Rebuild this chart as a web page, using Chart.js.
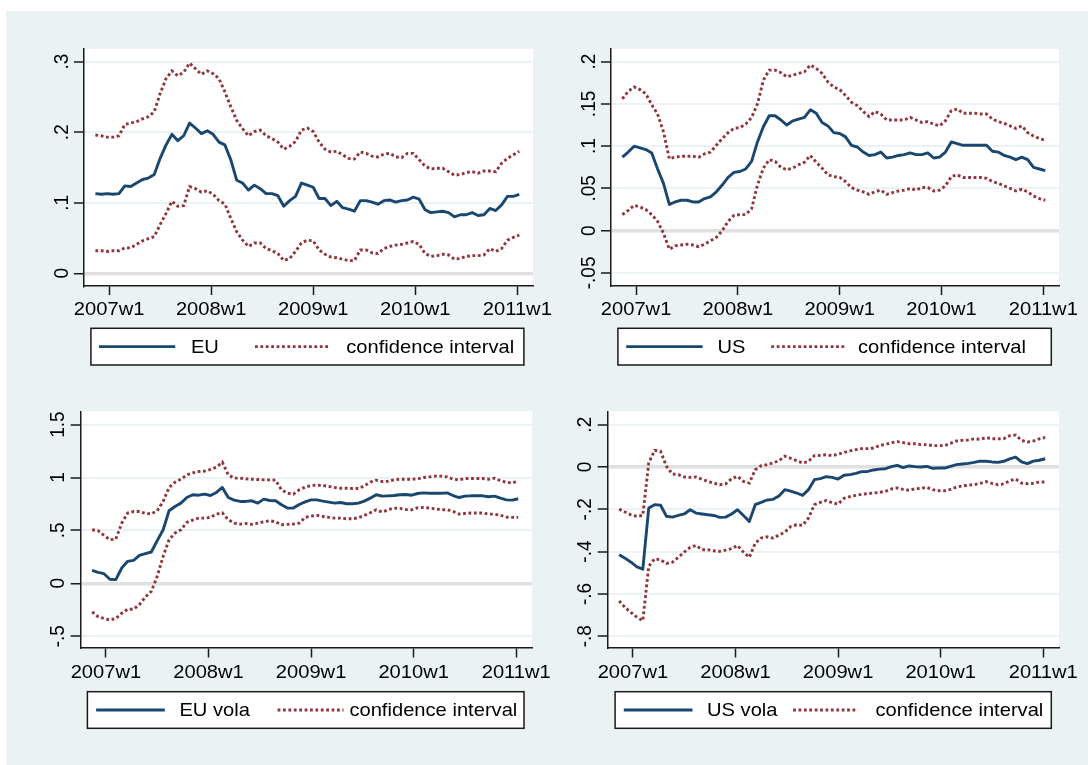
<!DOCTYPE html>
<html>
<head>
<meta charset="utf-8">
<script src="https://cdn.jsdelivr.net/npm/chart.js@4.4.1/dist/chart.umd.min.js"></script>
<style>
  html, body { margin: 0; padding: 0; background: #ffffff; }
  #page { position: relative; width: 1088px; height: 765px; overflow: hidden; background: #ffffff; }
  #region { position: absolute; left: 6px; top: 11px; right: 0; bottom: 0; background: #eaf2f3; }
  #page canvas { position: absolute; left: 0; top: 0; }
</style>
</head>
<body>
<div id="page">
  <div id="region"></div>
  <canvas id="c1" width="1088" height="765"></canvas>
  <canvas id="c2" width="1088" height="765"></canvas>
  <canvas id="c3" width="1088" height="765"></canvas>
  <canvas id="c4" width="1088" height="765"></canvas>
</div>
<script>
// Weekly observations, counted in weeks from 2007w1
const weeks = [-7,-4,-1,2,5,8,11,14,17,20,
  23,26,29,32,35,38,41,44,47,50,
  53,56,59,62,65,68,71,74,77,80,
  83,86,89,92,95,98,101,104,107,110,
  113,116,119,122,125,128,131,134,137,140,
  143,146,149,152,155,158,161,164,167,170,
  173,176,179,182,185,188,191,194,197,200,
  203,206,209];

const xTickWeeks = [0, 52, 104, 156, 208];
const xTickLabels = ['2007w1', '2008w1', '2009w1', '2010w1', '2011w1'];

const seriesNames = ['EU', 'US', 'EU vola', 'US vola'];
const intervalName = 'confidence interval';

// EU
const euEstimate = [.113,.112,.113,.112,.113,.124,.123,.128,.133,.135,
  .140,.163,.182,.197,.188,.195,.213,.206,.198,.202,
  .197,.186,.182,.161,.132,.128,.118,.125,.120,.113,
  .113,.110,.095,.103,.109,.128,.125,.122,.106,.106,
  .096,.102,.093,.091,.088,.103,.103,.101,.098,.103,
  .104,.101,.103,.104,.108,.105,.090,.086,.087,.088,
  .086,.080,.083,.083,.086,.082,.083,.092,.089,.097,
  .109,.109,.112];
const euUpper = [.196,.195,.193,.193,.195,.211,.213,.215,.219,.222,
  .229,.255,.276,.287,.280,.285,.298,.290,.282,.287,
  .283,.276,.257,.236,.217,.205,.195,.201,.203,.195,
  .191,.186,.176,.180,.187,.203,.206,.201,.186,.176,
  .172,.173,.168,.163,.162,.172,.170,.166,.165,.169,
  .170,.165,.164,.170,.170,.161,.152,.148,.149,.149,
  .144,.139,.140,.143,.144,.142,.145,.145,.144,.156,
  .163,.168,.173];
const euLower = [.032,.032,.031,.032,.032,.036,.036,.041,.046,.049,
  .052,.069,.085,.102,.095,.096,.123,.120,.115,.117,
  .112,.103,.098,.078,.059,.047,.038,.043,.043,.035,
  .032,.028,.018,.021,.031,.043,.047,.046,.033,.027,
  .023,.022,.020,.018,.018,.033,.033,.029,.028,.035,
  .038,.040,.041,.043,.045,.041,.028,.024,.025,.027,
  .026,.020,.021,.024,.025,.025,.026,.035,.031,.035,
  .047,.051,.054];

// US
const usEstimate = [.087,.093,.100,.098,.096,.092,.073,.056,.031,.034,
  .036,.036,.034,.034,.038,.040,.046,.054,.063,.069,
  .070,.073,.082,.105,.123,.136,.136,.131,.125,.130,
  .132,.134,.143,.139,.128,.124,.116,.115,.111,.101,
  .099,.093,.089,.090,.093,.086,.087,.089,.090,.092,
  .090,.090,.092,.086,.087,.093,.105,.103,.101,.101,
  .101,.101,.101,.094,.093,.089,.087,.084,.087,.084,
  .075,.073,.071];
const usUpper = [.156,.165,.170,.167,.162,.149,.138,.117,.085,.087,
  .088,.088,.088,.087,.091,.093,.101,.109,.116,.121,
  .122,.126,.134,.150,.178,.190,.190,.187,.182,.184,
  .186,.188,.196,.192,.186,.176,.170,.167,.160,.152,
  .148,.141,.135,.141,.138,.131,.131,.131,.131,.134,
  .131,.128,.129,.126,.124,.130,.142,.144,.139,.139,
  .139,.138,.138,.132,.129,.127,.124,.121,.124,.116,
  .112,.109,.107];
const usLower = [.019,.024,.030,.028,.025,.019,.011,-.003,-.022,-.018,
  -.017,-.016,-.017,-.019,-.016,-.012,-.008,.000,.011,.018,
  .019,.019,.026,.054,.074,.084,.082,.075,.072,.074,
  .078,.081,.089,.081,.074,.066,.064,.063,.058,.051,
  .048,.046,.043,.046,.048,.043,.045,.047,.048,.050,
  .048,.051,.051,.047,.048,.053,.064,.066,.063,.063,
  .063,.063,.062,.058,.056,.053,.050,.047,.049,.046,
  .041,.038,.036];

// EU vola
const euVolaEstimate = [.123,.104,.091,.038,.035,.145,.208,.217,.264,.280,
  .296,.403,.506,.686,.726,.758,.811,.837,.833,.843,
  .830,.859,.906,.811,.786,.774,.774,.780,.758,.796,
  .783,.780,.742,.711,.711,.745,.770,.789,.789,.777,
  .767,.758,.764,.752,.752,.758,.777,.805,.837,.824,
  .827,.830,.837,.840,.833,.849,.855,.852,.852,.852,
  .855,.830,.811,.824,.827,.827,.827,.818,.824,.805,
  .789,.786,.799];
const euVolaUpper = [.506,.497,.453,.412,.418,.569,.664,.679,.679,.660,
  .657,.686,.774,.906,.956,.984,1.025,1.044,1.057,1.060,
  1.076,1.098,1.145,1.025,.994,.994,.987,.984,.981,.978,
  .978,.975,.884,.852,.843,.884,.909,.925,.928,.925,
  .915,.906,.899,.899,.896,.896,.921,.956,.975,.962,
  .965,.978,.984,.984,.984,.987,1.000,1.006,1.013,1.013,
  1.006,.984,.978,.991,.991,.991,.991,.984,.994,.969,
  .956,.947,.969];
const euVolaLower = [-.270,-.315,-.333,-.346,-.333,-.283,-.245,-.245,-.201,-.129,
  -.076,.066,.255,.412,.475,.506,.576,.598,.616,.616,
  .623,.654,.667,.601,.569,.560,.566,.557,.569,.582,
  .591,.582,.554,.557,.560,.569,.623,.635,.642,.632,
  .623,.616,.616,.610,.610,.620,.642,.667,.695,.673,
  .695,.711,.708,.698,.695,.714,.717,.711,.704,.695,
  .695,.679,.654,.660,.664,.664,.664,.654,.654,.642,
  .626,.623,.623];

// US vola
const usVolaEstimate = [-.415,-.431,-.450,-.472,-.483,-.194,-.178,-.181,-.233,-.237,
  -.229,-.222,-.202,-.218,-.222,-.226,-.229,-.238,-.237,-.222,
  -.202,-.229,-.257,-.178,-.167,-.156,-.153,-.137,-.107,-.114,
  -.123,-.134,-.107,-.060,-.055,-.046,-.049,-.057,-.039,-.036,
  -.030,-.022,-.021,-.014,-.010,-.008,.002,.008,-.003,.005,
  .002,.000,.003,-.006,-.005,-.005,.003,.011,.014,.017,
  .022,.028,.027,.024,.022,.027,.038,.047,.024,.016,
  .028,.032,.039];
const usVolaUpper = [-.199,-.213,-.226,-.233,-.229,.019,.079,.074,.003,-.033,
  -.036,-.047,-.049,-.047,-.058,-.068,-.076,-.084,-.080,-.055,
  -.044,-.068,-.076,-.013,.006,.011,.019,.030,.051,.041,
  .030,.019,.027,.054,.055,.058,.054,.060,.069,.076,
  .082,.087,.087,.090,.101,.107,.115,.120,.115,.110,
  .110,.106,.106,.101,.101,.101,.112,.123,.126,.128,
  .133,.131,.139,.134,.133,.134,.148,.151,.126,.118,
  .123,.133,.140];
const usVolaLower = [-.633,-.664,-.688,-.710,-.727,-.470,-.434,-.439,-.456,-.450,
  -.427,-.402,-.380,-.371,-.391,-.391,-.396,-.399,-.393,-.386,
  -.371,-.402,-.427,-.360,-.336,-.330,-.336,-.322,-.308,-.281,
  -.273,-.276,-.241,-.178,-.167,-.158,-.169,-.175,-.148,-.140,
  -.134,-.129,-.126,-.123,-.120,-.115,-.104,-.099,-.106,-.110,
  -.103,-.101,-.096,-.107,-.112,-.112,-.106,-.095,-.090,-.085,
  -.084,-.077,-.069,-.077,-.084,-.080,-.065,-.057,-.076,-.079,
  -.077,-.071,-.071];

// y-axis ticks and their labels
const euTicks = [0, .1, .2, .3];
const euTickLabels = ['0', '.1', '.2', '.3'];
const usTicks = [-.05, 0, .05, .1, .15, .2];
const usTickLabels = ['-.05', '0', '.05', '.1', '.15', '.2'];
const euVolaTicks = [-.5, 0, .5, 1, 1.5];
const euVolaTickLabels = ['-.5', '0', '.5', '1', '1.5'];
const usVolaTicks = [-.8, -.6, -.4, -.2, 0, .2];
const usVolaTickLabels = ['-.8', '-.6', '-.4', '-.2', '0', '.2'];

// ---- styling ----
const NAVY = '#1a476f';
const MAROON = '#90353b';
const AXIS = '#1a1a1a';
const FONT = "19px 'Liberation Sans', Arial, Helvetica, sans-serif";
const STRETCH = 1.06;
const DASH = [2.8, 2.6];
const LINE_W = 2.9;
const Y_AXIS_W = 30, X_AXIS_H = 40;
const PAGE_W = 1088, PAGE_H = 765;

function drawLabel(ctx, text, x, y, align, vertical) {
  ctx.save();
  ctx.translate(x, y);
  ctx.scale(STRETCH, 1);
  if (vertical) ctx.rotate(-Math.PI / 2);
  ctx.font = FONT;
  ctx.fillStyle = '#000';
  ctx.textAlign = align;
  ctx.textBaseline = vertical ? 'alphabetic' : 'middle';
  ctx.fillText(text, 0, 0);
  ctx.restore();
}

const panelDecor = {
  id: 'panelDecor',
  beforeDraw(chart) {
    const { ctx, chartArea: a } = chart;
    ctx.save();
    ctx.fillStyle = '#ffffff';
    ctx.fillRect(a.left, a.top, a.right - a.left, a.bottom - a.top);
    ctx.restore();
  },
  afterDraw(chart, args, opts) {
    const ctx = chart.ctx;
    const xs = chart.scales.x, ys = chart.scales.y;
    xs.ticks.forEach((t, i) => {
      drawLabel(ctx, xTickLabels[i], xs.getPixelForValue(t.value), xs.top + 24.5, 'center', false);
    });
    ys.ticks.forEach((t, i) => {
      drawLabel(ctx, opts.yLabels[i], ys.right - 16.5, ys.getPixelForValue(t.value), 'center', true);
    });
    // legend box
    const L = opts.legend;
    const ds = chart.data.datasets;
    ctx.save();
    ctx.fillStyle = '#ffffff';
    ctx.fillRect(L.box[0], L.box[1], L.box[2] - L.box[0], L.box[3] - L.box[1]);
    ctx.strokeStyle = AXIS;
    ctx.lineWidth = 1.5;
    ctx.strokeRect(L.box[0], L.box[1], L.box[2] - L.box[0], L.box[3] - L.box[1]);
    const ly = (L.box[1] + L.box[3]) / 2;
    ctx.lineCap = 'butt';
    ctx.beginPath();
    ctx.strokeStyle = ds[0].borderColor;
    ctx.lineWidth = ds[0].borderWidth;
    ctx.moveTo(L.solid[0], ly); ctx.lineTo(L.solid[1], ly);
    ctx.stroke();
    ctx.beginPath();
    ctx.setLineDash(ds[1].borderDash);
    ctx.strokeStyle = ds[1].borderColor;
    ctx.lineWidth = ds[1].borderWidth;
    ctx.moveTo(L.dotted[0], ly); ctx.lineTo(L.dotted[1], ly);
    ctx.stroke();
    ctx.restore();
    drawLabel(ctx, ds[0].label, L.text1, ly + 1, 'left', false);
    drawLabel(ctx, ds[1].label, L.text2, ly + 1, 'left', false);
  }
};

const panels = [
  { id: 'c1', est: euEstimate, up: euUpper, lo: euLower, name: seriesNames[0],
    yTicks: euTicks, yLabels: euTickLabels, yMin: -0.0173, yMax: 0.318,
    area: { left: 84, top: 49, right: 533, bottom: 285.5 },
    legend: { box: [90.9, 328.3, 523.9, 365], solid: [98.9, 175.2], text1: 190.9, dotted: [255, 328], text2: 346.3 } },
  { id: 'c2', est: usEstimate, up: usUpper, lo: usLower, name: seriesNames[1],
    yTicks: usTicks, yLabels: usTickLabels, yMin: -0.0649, yMax: 0.215,
    area: { left: 611, top: 49, right: 1059, bottom: 285.5 },
    legend: { box: [617.9, 328.3, 1051.3, 365], solid: [626.2, 702.6], text1: 717.5, dotted: [771.3, 844.2], text2: 858 } },
  { id: 'c3', est: euVolaEstimate, up: euVolaUpper, lo: euVolaLower, name: seriesNames[2],
    yTicks: euVolaTicks, yLabels: euVolaTickLabels, yMin: -0.6115, yMax: 1.626,
    area: { left: 80.7, top: 411.3, right: 532, bottom: 648 },
    legend: { box: [87.4, 691.7, 524, 728.3], solid: [96.1, 164.8], text1: 179.4, dotted: [277.6, 343.5], text2: 349.4 } },
  { id: 'c4', est: usVolaEstimate, up: usVolaUpper, lo: usVolaLower, name: seriesNames[3],
    yTicks: usVolaTicks, yLabels: usVolaTickLabels, yMin: -0.8558, yMax: 0.2634,
    area: { left: 607.7, top: 411.3, right: 1059, bottom: 648 },
    legend: { box: [615.1, 691.7, 1051.3, 728.3], solid: [623.8, 692.5], text1: 707, dotted: [793.1, 858], text2: 875.4 } }
];

function toPoints(values) {
  return weeks.map((w, i) => ({ x: w, y: values[i] }));
}

panels.forEach(p => {
  const a = p.area;
  new Chart(document.getElementById(p.id), {
    type: 'line',
    data: {
      datasets: [
        { label: p.name, data: toPoints(p.est), borderColor: NAVY, borderWidth: LINE_W,
          pointRadius: 0, tension: 0, fill: false, borderJoinStyle: 'round', order: 0 },
        { label: intervalName, data: toPoints(p.up), borderColor: MAROON, borderWidth: LINE_W,
          borderDash: DASH, pointRadius: 0, tension: 0, fill: false, order: 1 },
        { label: intervalName, data: toPoints(p.lo), borderColor: MAROON, borderWidth: LINE_W,
          borderDash: DASH, pointRadius: 0, tension: 0, fill: false, order: 1 }
      ]
    },
    options: {
      responsive: false,
      animation: false,
      devicePixelRatio: 1,
      layout: {
        padding: {
          left: a.left - Y_AXIS_W,
          top: a.top,
          right: PAGE_W - a.right,
          bottom: PAGE_H - a.bottom - X_AXIS_H
        }
      },
      plugins: {
        legend: { display: false },
        tooltip: { enabled: false },
        panelDecor: { yLabels: p.yLabels, legend: p.legend }
      },
      scales: {
        x: {
          type: 'linear',
          min: -12.8,
          max: 216,
          afterBuildTicks: s => { s.ticks = xTickWeeks.map(v => ({ value: v })); },
          afterFit: s => { s.height = X_AXIS_H; s.paddingLeft = 0; s.paddingRight = 0; },
          ticks: { display: false },
          grid: { drawOnChartArea: false, drawTicks: true, tickLength: 9.5,
                  tickColor: AXIS, tickWidth: 1.5 },
          border: { display: true, color: AXIS, width: 1.5 }
        },
        y: {
          type: 'linear',
          min: p.yMin,
          max: p.yMax,
          afterBuildTicks: s => { s.ticks = p.yTicks.map(v => ({ value: v })); },
          afterFit: s => { s.width = Y_AXIS_W; s.paddingTop = 0; s.paddingBottom = 0; },
          ticks: { display: false },
          grid: {
            drawOnChartArea: true, drawTicks: true, tickLength: 10,
            tickColor: AXIS, tickWidth: 1.5,
            color: c => (c.tick && c.tick.value === 0) ? '#e0e0e0' : '#eaf2f3',
            lineWidth: c => (c.tick && c.tick.value === 0) ? 3.5 : 2
          },
          border: { display: true, color: AXIS, width: 1.5 }
        }
      }
    },
    plugins: [panelDecor]
  });
});
</script>
</body>
</html>
